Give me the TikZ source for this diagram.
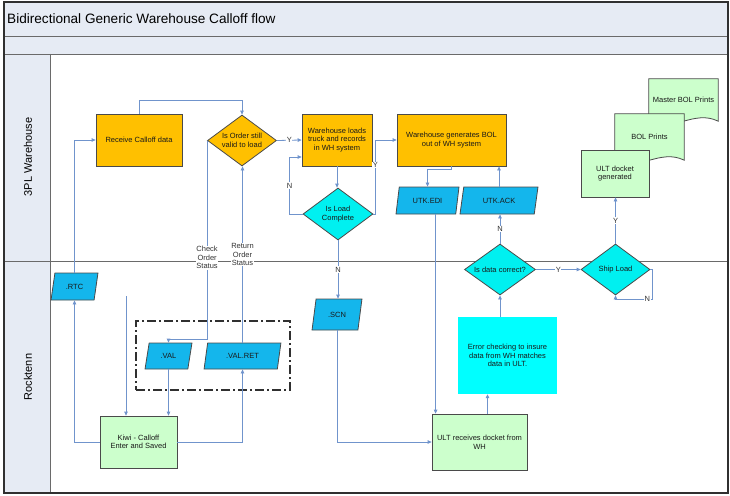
\documentclass[tikz,border=0pt]{standalone}
\usepackage{fontspec}
\setmainfont{Liberation Sans}
\usetikzlibrary{shapes.geometric,arrows.meta,calc}
\definecolor{orangeF}{HTML}{FFC000}
\definecolor{paraF}{HTML}{14B6EC}
\definecolor{cyanF}{HTML}{00F0F0}
\definecolor{errF}{HTML}{00FFFF}
\definecolor{greenF}{HTML}{CCFFCC}
\definecolor{bandF}{HTML}{E6EBF4}
\definecolor{connC}{HTML}{7094CC}
\definecolor{edgeC}{HTML}{4A4A4A}
\definecolor{frameC}{HTML}{6A6A6A}
\definecolor{frameD}{HTML}{303030}
\newcommand{\drawdocshape}[1]{%
  \path[draw=edgeC, fill=greenF, line width=0.8pt]
    (#1.north west) -- (#1.north east) -- (#1.south east)
    .. controls ($(#1.south east)!0.35!(#1.south west)+(0,-12)$) and ($(#1.south east)!0.65!(#1.south west)+(0,12)$) .. (#1.south west) -- cycle;}
\begin{document}
\begin{tikzpicture}[x=1pt,y=-1pt,
  txt/.style={font=\fontsize{7.5}{8.6}\selectfont, align=center, text=black!90},
  box/.style={txt, draw=edgeC, line width=0.8pt, inner sep=1pt},
  obox/.style={box, fill=orangeF},
  gbox/.style={box, fill=greenF},
  para/.style={txt, trapezium, trapezium left angle=72, trapezium right angle=108,
    trapezium stretches=true, draw=edgeC, fill=paraF, inner sep=0pt, line width=0.8pt},
  dia/.style={txt, diamond, draw=edgeC, inner sep=0pt, line width=0.8pt},
  doc/.style={txt, inner sep=0pt},
  conn/.style={draw=connC, line width=0.8pt, -{Triangle[length=4pt,width=3.6pt]}},
  lbl/.style={txt, fill=white, inner sep=0.6pt, text=black!80},
  lane/.style={draw=frameC, line width=0.8pt}
]
\useasboundingbox (0,0) rectangle (730,495);
% bands
\fill[bandF] (4,2) rectangle (728,54);
\fill[bandF] (4,54) rectangle (50,493);
\draw[lane] (4,36) -- (728,36);
\draw[lane] (4,54) -- (728,54);
\draw[lane] (50,54) -- (50,493);
\draw[lane] (4,261) -- (728,261);
\draw[frameD, line width=1.6pt] (4,2) rectangle (728,493);
\node[anchor=west, font=\fontsize{13.6}{15}\selectfont, inner sep=0pt] (title) at (7,19) {Bidirectional Generic Warehouse Calloff flow};
\node[rotate=90, font=\fontsize{11}{13}\selectfont] (lane1) at (28,157) {3PL Warehouse};
\node[rotate=90, font=\fontsize{11}{13}\selectfont] (lane2) at (28,377) {Rocktenn};

% group box
\node[draw=frameD, line width=1.4pt, dash pattern=on 9pt off 3pt on 2pt off 3pt,
  minimum width=154pt, minimum height=69pt, inner sep=0pt] (grp) at (213,355.5) {};

% nodes
\node[obox, minimum width=86pt, minimum height=52pt] (recv) at (139,140) {Receive Calloff data};
\node[dia, fill=orangeF, minimum width=69pt, minimum height=51pt, shape aspect=1.35] (valid) at (242,140.5) {Is Order still\\valid to load};
\node[obox, minimum width=70pt, minimum height=52pt] (loads) at (337,140) {Warehouse loads\\truck and records\\in WH system};
\node[dia, fill=cyanF, minimum width=70pt, minimum height=52pt, shape aspect=1.35] (complete) at (338,214) {Is Load\\Complete};
\node[obox, minimum width=109pt, minimum height=52pt] (genbol) at (451.5,140) {Warehouse generates BOL\\out of WH system};
\node[para, minimum width=63pt, minimum height=27pt] (edi) at (427.5,200.5) {UTK.EDI};
\node[para, minimum width=78pt, minimum height=27pt] (ack) at (499,200.5) {UTK.ACK};

\node[doc, minimum width=69pt, minimum height=42pt] (master) at (683.5,100) {Master BOL Prints};
\drawdocshape{master}
\node[doc] at (master) {Master BOL Prints};
\node[doc, minimum width=69pt, minimum height=46pt] (bolp) at (649.5,137) {BOL Prints};
\drawdocshape{bolp}
\node[doc] at (bolp) {BOL Prints};
\node[gbox, minimum width=68pt, minimum height=47pt] (docket) at (615,173.5) {ULT docket\\generated};

\node[dia, fill=cyanF, minimum width=71pt, minimum height=51pt, shape aspect=1.4] (correct) at (500,269.5) {Is data correct?};
\node[dia, fill=cyanF, minimum width=69pt, minimum height=51pt, shape aspect=1.35] (ship) at (615.5,269.5) {Ship Load};
\node[txt, fill=errF, minimum width=99pt, minimum height=77pt, inner sep=1pt] (err) at (507.5,355.5) {Error checking to insure\\data from WH matches\\data in ULT.};
\node[gbox, minimum width=95pt, minimum height=56pt] (ultrec) at (479.5,442) {ULT receives docket from\\WH};

\node[para, minimum width=47pt, minimum height=27pt] (rtc) at (74.5,286.5) {.RTC};
\node[para, minimum width=47pt, minimum height=26pt] (val) at (168.5,356) {.VAL};
\node[para, minimum width=77pt, minimum height=26pt] (valret) at (242.5,356) {.VAL.RET};
\node[gbox, minimum width=77pt, minimum height=52pt] (kiwi) at (138.5,442) {Kiwi - Calloff\\Enter and Saved};
\node[para, minimum width=50pt, minimum height=31pt] (scn) at (337,314.5) {.SCN};

% connectors
\coordinate (cks) at (207,339);
\coordinate (free) at (126,296);
\draw[conn] (kiwi.west) -| (rtc.south);
\draw[conn] (rtc.north) |- (recv.west);
\draw[conn] (recv.north) -- ++(0,-13) -| (valid.north);
\draw[conn] (valid.west) -- node[lbl, pos=0.59]{Check\\Order\\Status} (valid.west |- cks) -| (val.north);
\draw[conn] (valret.north) -- node[lbl, pos=0.50]{Return\\Order\\Status} (valret.north |- valid.south);
\draw[conn] (kiwi.east) -| (valret.south);
\draw[conn] (val.south) -- (val.south |- kiwi.north);
\draw[conn] (free) -- (free |- kiwi.north);
\draw[conn] (valid.east) -- node[lbl]{Y} (loads.west);
\draw[conn] (loads.south) -- (loads.south |- complete.north);
\draw[conn] (complete.west) -- ++(-13,0) |- node[lbl, pos=0.25]{N} ($(loads.west)+(0,17)$);
\draw[conn] (complete.east) -- ++(2,0) |- node[lbl, pos=0.33]{Y} (genbol.west);
\draw[conn] (complete.south) -- node[lbl]{N} (complete.south |- scn.north);
\draw[conn] (scn.south) |- (ultrec.west);
\draw[conn] (genbol.south) -- ++(0,3) -| (edi.north);
\draw[conn] ([xshift=4pt]ultrec.north west |- edi.south) -- ([xshift=4pt]ultrec.north west);
\draw[conn] ([xshift=8pt]ultrec.north) -- ([xshift=8pt]ultrec.north |- err.south);
\draw[conn] (err.north -| correct.south) -- (correct.south);
\draw[conn] (correct.north) -- node[lbl]{N} (correct.north |- ack.south);
\draw[conn] (ack.north) -- (ack.north |- genbol.south);
\draw[conn] (correct.east) -- node[lbl]{Y} (ship.west);
\draw[conn] (ship.east) -- ++(2,0) |- node[lbl, pos=0.57]{N} ($(ship.south)+(0,4)$) -- (ship.south);
\draw[conn] (ship.north) -- node[lbl]{Y} (ship.north |- docket.south);
\end{tikzpicture}
\end{document}
